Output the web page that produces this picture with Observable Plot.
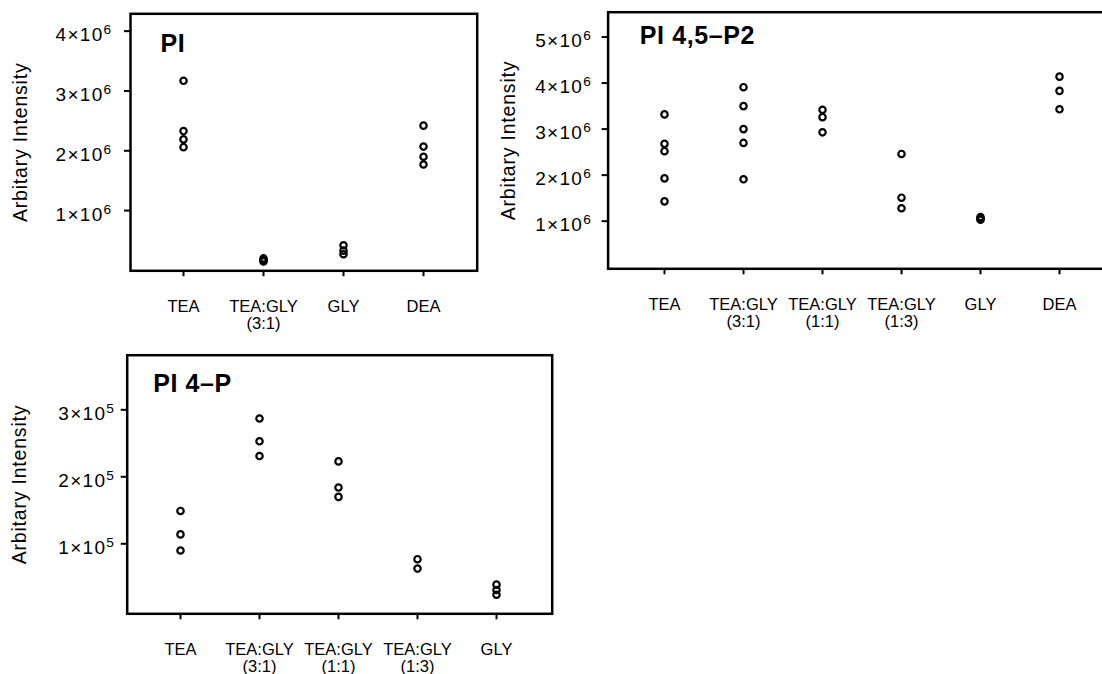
<!DOCTYPE html>
<html>
<head>
<meta charset="utf-8">
<script src="https://cdn.jsdelivr.net/npm/d3@7"></script>
<script src="https://cdn.jsdelivr.net/npm/@observablehq/plot@0.6"></script>
<style>
  body { margin: 0; background: #fff; }
  #wrap { position: relative; width: 1102px; height: 674px; overflow: hidden; background: #fff;
          font-family: "Liberation Sans", Arial, Helvetica, sans-serif; }
  #wrap > svg { position: absolute; }
</style>
</head>
<body>
<div id="wrap"></div>
<script>
// ---------- Panel A: PI ----------
const piCategories = ["TEA", "TEA:GLY\n(3:1)", "GLY", "DEA"];
const piGroup = ["TEA","TEA","TEA","TEA",
                 "TEA:GLY\n(3:1)","TEA:GLY\n(3:1)","TEA:GLY\n(3:1)",
                 "GLY","GLY","GLY",
                 "DEA","DEA","DEA","DEA"];
const piValue = [3.17e6, 2.33e6, 2.19e6, 2.06e6,
                 0.20e6, 0.17e6, 0.15e6,
                 0.42e6, 0.33e6, 0.27e6,
                 2.42e6, 2.07e6, 1.90e6, 1.77e6];
const piTicks = [1e6, 2e6, 3e6, 4e6];
const piTickLabels = ["1×10^6", "2×10^6", "3×10^6", "4×10^6"];

// ---------- Panel B: PI 4,5-P2 ----------
const pip2Categories = ["TEA", "TEA:GLY\n(3:1)", "TEA:GLY\n(1:1)", "TEA:GLY\n(1:3)", "GLY", "DEA"];
const pip2Group = ["TEA","TEA","TEA","TEA","TEA",
                   "TEA:GLY\n(3:1)","TEA:GLY\n(3:1)","TEA:GLY\n(3:1)","TEA:GLY\n(3:1)","TEA:GLY\n(3:1)",
                   "TEA:GLY\n(1:1)","TEA:GLY\n(1:1)","TEA:GLY\n(1:1)",
                   "TEA:GLY\n(1:3)","TEA:GLY\n(1:3)","TEA:GLY\n(1:3)",
                   "GLY","GLY","GLY",
                   "DEA","DEA","DEA"];
const pip2Value = [3.32e6, 2.68e6, 2.52e6, 1.93e6, 1.43e6,
                   3.91e6, 3.50e6, 3.00e6, 2.70e6, 1.91e6,
                   3.42e6, 3.26e6, 2.93e6,
                   2.46e6, 1.51e6, 1.28e6,
                   1.09e6, 1.06e6, 1.03e6,
                   4.14e6, 3.83e6, 3.43e6];
const pip2Ticks = [1e6, 2e6, 3e6, 4e6, 5e6];
const pip2TickLabels = ["1×10^6", "2×10^6", "3×10^6", "4×10^6", "5×10^6"];

// ---------- Panel C: PI 4-P ----------
const pi4pCategories = ["TEA", "TEA:GLY\n(3:1)", "TEA:GLY\n(1:1)", "TEA:GLY\n(1:3)", "GLY"];
const pi4pGroup = ["TEA","TEA","TEA",
                   "TEA:GLY\n(3:1)","TEA:GLY\n(3:1)","TEA:GLY\n(3:1)",
                   "TEA:GLY\n(1:1)","TEA:GLY\n(1:1)","TEA:GLY\n(1:1)",
                   "TEA:GLY\n(1:3)","TEA:GLY\n(1:3)",
                   "GLY","GLY","GLY"];
const pi4pValue = [1.49e5, 1.14e5, 0.90e5,
                   2.87e5, 2.53e5, 2.31e5,
                   2.23e5, 1.84e5, 1.70e5,
                   0.77e5, 0.63e5,
                   0.39e5, 0.31e5, 0.24e5];
const pi4pTicks = [1e5, 2e5, 3e5];
const pi4pTickLabels = ["1×10^5", "2×10^5", "3×10^5"];

const yLabel = "Arbitary Intensity";
const FONT = "Liberation Sans, Arial, Helvetica, sans-serif";

function panel(cfg) {
  const data = cfg.values.map((v, i) => ({cat: cfg.groups[i], v}));
  const fmt = d => cfg.tickLabels[cfg.ticks.indexOf(d)];
  const svg = Plot.plot({
    width: cfg.width, height: cfg.height,
    marginLeft: cfg.mL, marginRight: cfg.mR, marginTop: cfg.mT, marginBottom: cfg.mB,
    style: {fontFamily: FONT, color: "black", background: "transparent", overflow: "visible"},
    x: {type: "point", domain: cfg.categories, range: cfg.xRange, padding: 0},
    y: {domain: cfg.yDomain},
    marks: [
      Plot.frame({stroke: "black", strokeWidth: 2.5}),
      Plot.axisY(cfg.ticks, {fill: "none", tickSize: 6, strokeWidth: 2, label: null}),
      Plot.axisY(cfg.ticks, {stroke: "none", tickSize: 6, tickPadding: cfg.yPad, dy: 4,
                             fontSize: 19, tickFormat: fmt, label: null}),
      Plot.axisX({tickSize: 6, strokeWidth: 2, tickPadding: 23, fontSize: 16.5, lineHeight: 1.02, label: null}),
      Plot.dot(data, {x: "cat", y: "v", r: 3.2, stroke: "black", strokeWidth: 2.2, fill: "none"}),
      Plot.text([cfg.title], {frameAnchor: "top-left", dx: cfg.tDx, dy: cfg.tDy, textAnchor: "start",
                              lineAnchor: "top", fontSize: 25, fontWeight: "bold"}),
      Plot.text([yLabel], {frameAnchor: "left", dx: cfg.lDx, rotate: -90, fontSize: 19.5,
                           textAnchor: "middle", lineAnchor: "middle"})
    ]
  });
  // superscript exponents in tick labels
  svg.querySelectorAll("text").forEach(t => {
    if (t.children.length === 0 && t.textContent.includes("^")) {
      const [base, exp] = t.textContent.split("^");
      t.textContent = base;
      t.style.letterSpacing = "1.3px";
      const ts = document.createElementNS("http://www.w3.org/2000/svg", "tspan");
      ts.setAttribute("dy", "-0.5em");
      ts.setAttribute("font-size", "0.72em");
      ts.textContent = exp;
      t.appendChild(ts);
    }
    if (t.textContent === yLabel) t.style.letterSpacing = "0.8px";
    if (t.textContent === cfg.title) t.style.letterSpacing = "0.6px";
  });
  svg.style.left = cfg.left + "px";
  svg.style.top = cfg.top + "px";
  return svg;
}

const wrap = document.getElementById("wrap");

wrap.appendChild(panel({
  categories: piCategories, groups: piGroup, values: piValue,
  ticks: piTicks, tickLabels: piTickLabels,
  left: 0, top: 0, width: 500, height: 340,
  mL: 130, mR: 23.3, mT: 13.3, mB: 69.7,
  xRange: [182.7, 423.3], yDomain: [-0.007e6, 4.29e6],
  yPad: 12, title: "PI", tDx: 30, tDy: 20, lDx: -110
}));

wrap.appendChild(panel({
  categories: pip2Categories, groups: pip2Group, values: pip2Value,
  ticks: pip2Ticks, tickLabels: pip2TickLabels,
  left: 480, top: 0, width: 640, height: 340,
  mL: 127.6, mR: 8, mT: 11.7, mB: 71.7,
  xRange: [181.6, 581.3], yDomain: [-0.035e6, 5.54e6],
  yPad: 10, title: "PI 4,5–P2", tDx: 31.7, tDy: 14.3, lDx: -99.6
}));

wrap.appendChild(panel({
  categories: pi4pCategories, groups: pi4pGroup, values: pi4pValue,
  ticks: pi4pTicks, tickLabels: pi4pTickLabels,
  left: 0, top: 340, width: 600, height: 334,
  mL: 126.7, mR: 48.3, mT: 14.7, mB: 60.7,
  xRange: [178.3, 496.7], yDomain: [-0.045e5, 3.815e5],
  yPad: 6, title: "PI 4–P", tDx: 26, tDy: 18.6, lDx: -107.7
}));
</script>
</body>
</html>
